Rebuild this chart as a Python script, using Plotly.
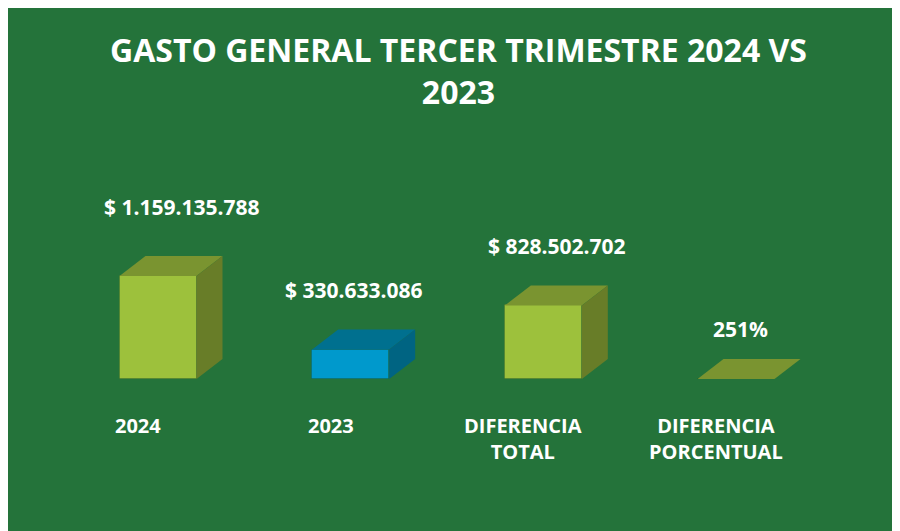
import plotly.graph_objects as go

# chart data
categories = ["2024", "2023", "DIFERENCIA<br>TOTAL", "DIFERENCIA<br>PORCENTUAL"]
values = [1159135788, 330633086, 828502702, 2.51]
value_labels = ["$ 1.159.135.788", "$ 330.633.086", "$ 828.502.702", "251%"]
title_text = "GASTO GENERAL TERCER TRIMESTRE 2024 VS<br>2023"

# styling
BG = "#24733A"
FRONT = ["#9DC13C", "#0099CC", "#9DC13C", "#9DC13C"]
TOP = ["#7A9430", "#00708F", "#7A9430", "#7A9430"]
SIDE = ["#687D28", "#006482", "#687D28", "#687D28"]
FONT = "Open Sans"

W, H = 900, 531
PX_X = 192.67                  # pixels per category step
PX_Y = 1159135788 / 103.0      # value units per pixel
BASE_PX = 371                  # pixel row of value 0
FIRST_PX = 150                 # pixel column of first category

half = 38.5 / PX_X             # half bar width (x units)
dx = 26 / PX_X                 # depth offset x
dy = 20 * PX_Y                 # depth offset y

x_range = [-FIRST_PX / PX_X, (W - FIRST_PX) / PX_X]
y_range = [-(H - BASE_PX) * PX_Y, BASE_PX * PX_Y]

fig = go.Figure()

xs = list(range(len(categories)))

# front faces
fig.add_trace(go.Bar(
    x=xs, y=values, width=2 * half,
    marker=dict(color=FRONT, line=dict(color="rgba(0,0,0,0.12)", width=1)),
    hoverinfo="skip", showlegend=False,
))

# top and side faces
for i, v in enumerate(values):
    x0, x1 = i - half, i + half
    fig.add_trace(go.Scatter(
        x=[x0, x1, x1 + dx, x0 + dx, x0],
        y=[v, v, v + dy, v + dy, v],
        fill="toself", fillcolor=TOP[i], mode="lines",
        line=dict(width=0), hoverinfo="skip", showlegend=False,
    ))
    if v > 0.01 * values[0]:
        fig.add_trace(go.Scatter(
            x=[x1, x1 + dx, x1 + dx, x1, x1],
            y=[0, dy, v + dy, v, 0],
            fill="toself", fillcolor=SIDE[i], mode="lines",
            line=dict(width=0), hoverinfo="skip", showlegend=False,
        ))

# value labels
label_shift_x = [24, 3, 14, 4]
label_shift_y = [69, 60, 59, 50]
for i, (v, t) in enumerate(zip(values, value_labels)):
    fig.add_annotation(
        x=i, y=v, text=t, showarrow=False,
        xshift=label_shift_x[i], yshift=label_shift_y[i],
        font=dict(family=FONT, size=21, color="white", weight="bold"),
    )

# category labels
for i, c in enumerate(categories):
    fig.add_annotation(
        x=i, y=0, text=c, showarrow=False, yanchor="top",
        xshift=-20, yshift=-31,
        font=dict(family=FONT, size=20, color="white", weight="bold"),
    )

# title
fig.add_annotation(
    xref="paper", yref="paper", x=451 / W, y=1 - 18 / H,
    xanchor="center", yanchor="top", text=title_text, showarrow=False,
    font=dict(family=FONT, size=32, color="white", weight="bold"),
)

fig.update_layout(
    width=W, height=H,
    margin=dict(l=0, r=0, t=0, b=0),
    paper_bgcolor=BG,
    plot_bgcolor=BG,
    xaxis=dict(range=x_range, side="top", showline=True, linecolor="#c8c8c8",
               linewidth=1, showgrid=False, zeroline=False,
               showticklabels=False, ticks="", fixedrange=True),
    yaxis=dict(range=y_range, showline=True, linecolor="#c8c8c8",
               linewidth=1, showgrid=False, zeroline=False,
               showticklabels=False, ticks="", fixedrange=True),
    bargap=0,
)

fig.write_html("out.html")
